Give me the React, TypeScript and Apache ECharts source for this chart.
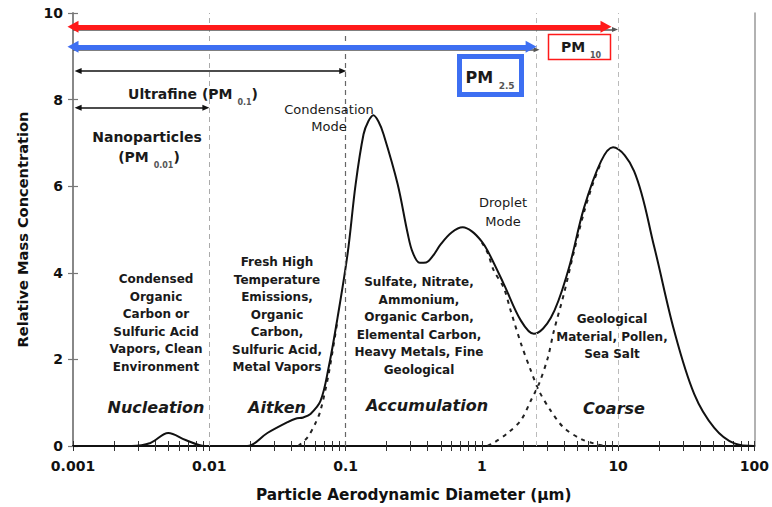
import React, { useEffect, useRef } from 'react';
import * as echarts from 'echarts';

// ---------- data ----------
const xTickLabels = ['0.001', '0.01', '0.1', '1', '10', '100'];
const yTickValues = [0, 2, 4, 6, 8, 10];

// total mass distribution (solid)
const totalCurve: [number, number][] = [
  [0.001, 0], [0.0027, 0], [0.0037, 0.07], [0.005, 0.3], [0.0067, 0.14], [0.0093, 0],
  [0.019, 0], [0.0267, 0.3], [0.0375, 0.55], [0.0429, 0.63], [0.049, 0.66], [0.0553, 0.74],
  [0.0655, 1.04], [0.075, 1.8], [0.0873, 2.96], [0.1035, 4.44], [0.1186, 6.05], [0.1355, 7.2],
  [0.147, 7.5], [0.16, 7.64], [0.174, 7.5], [0.19, 7.2], [0.241, 6.05], [0.286, 4.9],
  [0.311, 4.47], [0.35, 4.23], [0.39, 4.24], [0.44, 4.4], [0.5, 4.66], [0.6, 4.93],
  [0.724, 5.05], [0.85, 4.95], [1.0, 4.72], [1.107, 4.5],
  [1.45, 3.74], [1.94, 2.89], [2.41, 2.59], [3.21, 2.96], [4.29, 4.04], [5.62, 5.5],
  [7.5, 6.58], [9.18, 6.9], [13.1, 6.35], [18.4, 4.6], [25.8, 2.66], [36.2, 1.2],
  [50.8, 0.42], [71.3, 0.06], [100, 0],
];

// accumulation mode (dashed) – rising part below the Aitken shoulder
const accumulationLeft: [number, number][] = [
  [0.045, 0], [0.0526, 0.2], [0.06, 0.52], [0.0655, 0.82], [0.075, 1.65], [0.0873, 2.9],
];
// accumulation mode (dashed) – falling tail
const accumulationRight: [number, number][] = [
  [1.0, 4.7], [1.107, 4.45], [1.22, 4.06], [1.45, 3.65], [1.63, 3.12], [1.94, 2.36],
  [2.29, 1.74], [2.63, 1.27], [3.21, 0.81], [4.0, 0.42], [5.35, 0.16], [6.6, 0.06], [8.0, 0],
];
// coarse mode (dashed) – rising part
const coarseDashed: [number, number][] = [
  [1.1, 0], [1.22, 0.07], [1.55, 0.3], [1.94, 0.6], [2.29, 1.05], [2.63, 1.44], [3.05, 2.04],
  [3.38, 2.66], [4.0, 3.51], [4.7, 4.44], [5.62, 5.4], [6.6, 6.1], [7.5, 6.55],
];

// size-class boundaries (µm)
const boundaries = [0.01, 0.1, 2.5, 10];

const FONT = 'DejaVu Sans';

export default function App() {
  const ref = useRef<HTMLDivElement>(null);

  useEffect(() => {
    if (!ref.current) return;
    const chart = echarts.init(ref.current, undefined, { renderer: 'svg' });

    const boundaryStyles = [
      { color: '#aaa', width: 1, top: 10 },
      { color: '#666', width: 1.2, top: 9.55 },
      { color: '#bbb', width: 1, top: 10 },
      { color: '#bbb', width: 1, top: 10 },
    ];

    const arrow = (
      y: number, x0: number, x1: number, color: string, width: number,
      s0: string, s1: string, size: number[],
    ) => [
      { coord: [x0, y], symbol: s0, symbolSize: size, lineStyle: { color, width, type: 'solid' } },
      { coord: [x1, y], symbol: s1, symbolSize: size },
    ];

    const labelStyle = {
      fontFamily: FONT, fontWeight: 'bold' as const, fontSize: 14, color: '#111',
    };

    const txt = (x: number, y: number, text: string, size: number, weight: string, style: string = 'normal', lh = 17.5) => ({
      type: 'text', x, y, silent: true, z: 20,
      style: {
        text, align: 'center', verticalAlign: 'middle',
        fontFamily: FONT, fontSize: size, fontWeight: weight, fontStyle: style,
        lineHeight: lh, fill: '#1a1a1a',
      },
    });

    const richTxt = (x: number, y: number, text: string, big: number, small: number) => ({
      type: 'text', x, y, silent: true, z: 20,
      style: {
        text, align: 'center', verticalAlign: 'middle',
        rich: {
          a: { fontFamily: FONT, fontSize: big, fontWeight: 'bold', fill: '#1a1a1a', lineHeight: big + 4 },
          b: { fontFamily: FONT, fontSize: small, fontWeight: 'bold', fill: '#555', lineHeight: big + 4, verticalAlign: 'bottom', padding: [0, 0, -3, 0] },
        },
      },
    });

    const xBase = { type: 'log', logBase: 10, min: 0.001, max: 100 };
    const xTickStyle = { show: true, length: 5, lineStyle: { color: '#333', width: 1 } };
    const xMinorStyle = { show: true, splitNumber: 9, length: 5, lineStyle: { color: '#333', width: 1 } };

    const option: any = {
      animation: false,
      grid: { left: 73, right: 17, top: 13, bottom: 60 },
      xAxis: [
        {
          ...xBase, position: 'bottom',
          axisLine: { show: true, lineStyle: { color: '#111', width: 2 } },
          axisTick: { ...xTickStyle, inside: false }, minorTick: xMinorStyle,
          splitLine: { show: false },
          axisLabel: {
            ...labelStyle, margin: 13,
            formatter: (v: number) => xTickLabels[Math.round(Math.log10(v)) + 3] ?? '',
          },
          name: 'Particle Aerodynamic Diameter (µm)', nameLocation: 'middle', nameGap: 41,
          nameTextStyle: { ...labelStyle, fontSize: 15.3 },
        },
        {
          ...xBase, position: 'top',
          axisLine: { show: true, lineStyle: { color: '#111', width: 1.5 } },
          axisTick: { show: false }, axisLabel: { show: false }, splitLine: { show: false },
        },
        {
          ...xBase, position: 'bottom', offset: 0,
          axisLine: { show: false },
          axisTick: { ...xTickStyle, inside: true }, minorTick: xMinorStyle,
          axisLabel: { show: false }, splitLine: { show: false },
        },
      ],
      yAxis: [
        {
          type: 'value', min: 0, max: 10, interval: 2,
          axisLine: { show: true, lineStyle: { color: '#888', width: 2 } },
          axisTick: { show: true, inside: false, length: 5, lineStyle: { color: '#777', width: 1.2 } },
          splitLine: { show: false },
          axisLabel: { ...labelStyle, margin: 10 },
          name: 'Relative Mass Concentration', nameLocation: 'middle', nameGap: 43, nameRotate: 90,
          nameTextStyle: { ...labelStyle, fontSize: 14.6 },
        },
        {
          type: 'value', min: 0, max: 10, position: 'right',
          axisLine: { show: true, lineStyle: { color: '#999', width: 1.5 } },
          axisTick: { show: false }, axisLabel: { show: false }, splitLine: { show: false },
        },
        {
          type: 'value', min: 0, max: 10, interval: 2, position: 'left', offset: 0,
          axisLine: { show: false },
          axisTick: { show: true, inside: true, length: 5, lineStyle: { color: '#777', width: 1.2 } },
          axisLabel: { show: false }, splitLine: { show: false },
        },
      ],
      series: [
        {
          type: 'line', name: 'boundaries', data: [], z: 1, silent: true,
          markLine: {
            silent: true, symbol: 'none', label: { show: false }, animation: false,
            data: boundaries.map((b, i) => [
              { coord: [b, 0], lineStyle: { color: boundaryStyles[i].color, width: boundaryStyles[i].width, type: [5, 4] } },
              { coord: [b, boundaryStyles[i].top] },
            ]),
          },
        },
        {
          type: 'line', name: 'accumulationLeft', data: accumulationLeft, smooth: 0.3, showSymbol: false, symbol: 'none',
          lineStyle: { color: '#222', width: 2, type: [4, 5] }, z: 2, silent: true,
        },
        {
          type: 'line', name: 'accumulationRight', data: accumulationRight, smooth: 0.3, showSymbol: false, symbol: 'none',
          lineStyle: { color: '#222', width: 2, type: [4, 5] }, z: 2, silent: true,
        },
        {
          type: 'line', name: 'coarse', data: coarseDashed, smooth: 0.3, showSymbol: false, symbol: 'none',
          lineStyle: { color: '#222', width: 2, type: [4, 5] }, z: 2, silent: true,
        },
        {
          type: 'line', name: 'total', data: totalCurve, smooth: 0.35, showSymbol: false, symbol: 'none',
          lineStyle: { color: '#111', width: 2 }, z: 4, silent: true,
        },
        {
          type: 'line', name: 'arrows', data: [], z: 6, silent: true,
          markLine: {
            silent: true, label: { show: false }, animation: false, precision: 6,
            data: [
              arrow(9.62, 0.001, 9.49, '#555', 1.5, 'none', 'triangle', [5, 6]),
              arrow(9.15, 0.001, 2.52, '#555', 1.5, 'none', 'triangle', [5, 6]),
              arrow(9.68, 0.001, 8.15, '#ff1a1a', 5, 'triangle', 'triangle', [12, 11]),
              arrow(9.22, 0.001, 2.3, '#3d6ff2', 5, 'triangle', 'triangle', [12, 11]),
              arrow(8.66, 0.00109, 0.0954, '#111', 1.5, 'triangle', 'triangle', [6, 7]),
              arrow(7.81, 0.00109, 0.00944, '#111', 1.5, 'triangle', 'triangle', [6, 7]),
            ],
          },
        },
      ],
      graphic: [
        // PM 2.5 box
        { type: 'rect', shape: { x: 459.5, y: 56.5, width: 62, height: 38 }, style: { fill: '#fff', stroke: '#3d6ff2', lineWidth: 5 }, z: 15, silent: true },
        richTxt(490, 77, '{a|PM }{b|2.5}', 16, 9),
        // PM 10 box
        { type: 'rect', shape: { x: 548.5, y: 34.5, width: 62, height: 25 }, style: { fill: '#fff', stroke: '#ff1a1a', lineWidth: 1.5 }, z: 15, silent: true },
        richTxt(581, 47, '{a|PM }{b|10}', 14, 8),
        // size class labels
        richTxt(193, 94, '{a|Ultrafine (PM }{b|0.1}{a|)}', 14, 8),
        txt(147, 137, 'Nanoparticles', 14, 'bold'),
        richTxt(149, 157, '{a|(PM }{b|0.01}{a|)}', 14, 8),
        txt(329, 118, 'Condensation\nMode', 13, 'normal', 'normal', 17),
        txt(503, 212, 'Droplet\nMode', 13, 'normal', 'normal', 19),
        // descriptions
        txt(156, 323, 'Condensed\nOrganic\nCarbon or\nSulfuric Acid\nVapors, Clean\nEnvironment', 12, 'bold'),
        txt(277, 314.5, 'Fresh High\nTemperature\nEmissions,\nOrganic\nCarbon,\nSulfuric Acid,\nMetal Vapors', 12, 'bold'),
        txt(419, 326, 'Sulfate, Nitrate,\nAmmonium,\nOrganic Carbon,\nElemental Carbon,\nHeavy Metals, Fine\nGeological', 12, 'bold'),
        txt(612, 336.5, 'Geological\nMaterial, Pollen,\nSea Salt', 12, 'bold'),
        // mode names
        txt(156, 407, 'Nucleation', 16, 'bold', 'italic'),
        txt(277, 407, 'Aitken', 16, 'bold', 'italic'),
        txt(427, 405, 'Accumulation', 16, 'bold', 'italic'),
        txt(614, 408, 'Coarse', 16, 'bold', 'italic'),
      ],
    };

    chart.setOption(option);
    return () => chart.dispose();
  }, []);

  return (
    <div
      ref={ref}
      style={{ position: 'fixed', left: 0, top: 0, width: 772, height: 507, background: '#fff' }}
    />
  );
}
